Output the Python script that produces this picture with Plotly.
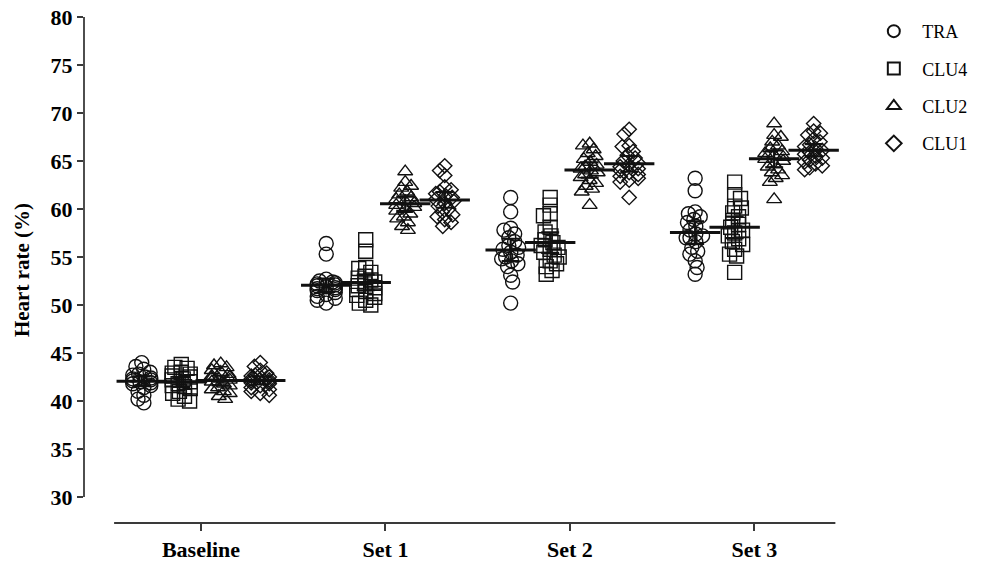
import math
import numpy as np
import plotly.graph_objects as go

# ---------------- data ----------------
categories = ["Baseline", "Set 1", "Set 2", "Set 3"]
series_names = ["TRA", "CLU4", "CLU2", "CLU1"]

TRA_baseline = [44.0, 43.6, 43.3, 43.0, 42.8, 42.7, 42.5, 42.4, 42.3, 42.2,
                42.1, 42.0, 41.9, 41.8, 41.6, 41.4, 41.0, 40.6, 40.2, 39.8]
TRA_set1 = [56.4, 55.3, 52.7, 52.5, 52.4, 52.3, 52.2, 52.1, 52.0, 51.9,
            51.8, 51.7, 51.6, 51.5, 51.3, 51.1, 50.9, 50.7, 50.5, 50.2]
TRA_set2 = [61.2, 59.7, 58.0, 57.8, 57.4, 57.0, 56.6, 56.2, 56.0, 55.8,
            55.5, 55.2, 55.0, 54.8, 54.6, 54.3, 54.0, 53.1, 52.4, 50.2]
TRA_set3 = [63.2, 61.9, 59.7, 59.5, 59.2, 58.9, 58.6, 58.2, 57.8, 57.4,
            57.0, 57.2, 57.0, 56.6, 56.0, 55.6, 55.3, 54.6, 53.9, 53.2]

CLU4_baseline = [43.8, 43.5, 43.4, 43.0, 42.9, 42.8, 42.6, 42.5, 42.3, 42.2,
                 42.0, 41.8, 41.6, 41.5, 41.3, 41.0, 40.8, 40.5, 40.2, 40.0]
CLU4_set1 = [56.8, 55.6, 53.9, 53.8, 53.4, 53.0, 52.8, 52.6, 52.4, 52.2,
             52.0, 51.8, 51.6, 51.4, 51.2, 51.0, 50.8, 50.5, 50.2, 50.0]
CLU4_set2 = [61.2, 60.4, 59.5, 59.3, 58.1, 57.6, 57.2, 56.8, 56.5, 56.2,
             56.0, 55.8, 55.5, 55.2, 55.0, 54.6, 54.3, 54.0, 53.6, 53.2]
CLU4_set3 = [62.8, 61.5, 61.1, 60.3, 60.1, 59.6, 59.2, 58.8, 58.4, 58.1,
             57.8, 57.5, 57.2, 56.9, 56.6, 56.3, 55.8, 55.3, 55.1, 53.4]

CLU2_baseline = [43.9, 43.7, 43.5, 43.2, 43.0, 42.8, 42.6, 42.5, 42.4, 42.3,
                 42.2, 42.0, 41.8, 41.6, 41.4, 41.2, 41.0, 40.8, 40.5, 40.2]
CLU2_set1 = [63.9, 62.8, 62.4, 62.2, 61.8, 61.5, 61.2, 61.0, 60.8, 60.6,
             60.4, 60.2, 60.0, 59.8, 59.5, 59.2, 59.0, 58.6, 58.2, 57.8]
CLU2_set2 = [66.8, 66.6, 66.2, 65.8, 65.5, 65.2, 64.9, 64.6, 64.4, 64.2,
             64.0, 63.8, 63.6, 63.3, 63.0, 62.7, 62.4, 62.1, 61.8, 60.4]
CLU2_set3 = [68.9, 67.7, 67.5, 67.0, 66.6, 66.3, 66.0, 65.8, 65.6, 65.4,
             65.2, 65.0, 64.7, 64.4, 64.1, 63.8, 63.5, 63.2, 62.8, 61.0]

CLU1_baseline = [44.0, 43.6, 43.2, 42.9, 42.7, 42.6, 42.5, 42.4, 42.3, 42.2,
                 42.1, 42.0, 41.9, 41.8, 41.6, 41.4, 41.2, 41.0, 40.8, 40.6]
CLU1_set1 = [64.5, 64.0, 63.5, 62.3, 62.0, 61.8, 61.6, 61.4, 61.2, 61.0,
             60.8, 60.6, 60.3, 60.0, 59.7, 59.4, 59.2, 58.9, 58.6, 58.2]
CLU1_set2 = [68.3, 67.8, 66.6, 66.5, 66.0, 65.6, 65.3, 65.0, 64.8, 64.6,
             64.4, 64.2, 64.0, 63.8, 63.6, 63.4, 63.2, 63.0, 62.8, 61.2]
CLU1_set3 = [68.9, 68.1, 67.9, 67.7, 67.3, 67.0, 66.7, 66.5, 66.3, 66.1,
             65.9, 65.7, 65.5, 65.3, 65.1, 64.9, 64.7, 64.5, 64.3, 64.1]

y_tick_values = [30, 35, 40, 45, 50, 55, 60, 65, 70, 75, 80]
y_title = "Heart rate (%)"

series_data = {
    "TRA": [TRA_baseline, TRA_set1, TRA_set2, TRA_set3],
    "CLU4": [CLU4_baseline, CLU4_set1, CLU4_set2, CLU4_set3],
    "CLU2": [CLU2_baseline, CLU2_set1, CLU2_set2, CLU2_set3],
    "CLU1": [CLU1_baseline, CLU1_set1, CLU1_set2, CLU1_set3],
}

# ---------------- styling / layout ----------------
symbols = {"TRA": "circle-open", "CLU4": "square-open",
           "CLU2": "triangle-up-open", "CLU1": "diamond-open"}
msizes = {"TRA": 14, "CLU4": 14, "CLU2": 13, "CLU1": 11}
INK = "#111111"
AXIS = "#3a3a3a"
FONT = "Liberation Serif, Times New Roman, serif"

GROUP_STEP = 4.67
PX_PER_X = 39.5
PX_PER_Y = 9.6
T_975_19 = 2.093  # t quantile for 95% CI, n = 20


def swarm_offsets(vals, d_px=7.0, max_px=9.0):
    vals = np.asarray(vals, float)
    order = np.argsort(-vals)
    placed = []
    off = np.zeros(len(vals))
    for k, i in enumerate(order):
        y = vals[i] * PX_PER_Y
        cands = [0.0]
        forb = []
        for xj, yj in placed:
            dy = y - yj
            if abs(dy) < d_px:
                w = math.sqrt(d_px ** 2 - dy ** 2)
                forb.append((xj - w, xj + w))
                cands += [xj - w, xj + w]
        sgn = 1 if k % 2 else -1
        cands.sort(key=lambda c: (round(abs(c), 4), sgn * c))
        chosen = cands[0]
        for c in cands:
            if all(not (a + 1e-6 < c < b - 1e-6) for a, b in forb):
                chosen = c
                break
        chosen = max(-max_px, min(max_px, chosen))
        placed.append((chosen, y))
        off[i] = chosen / PX_PER_X
    return off


fig = go.Figure()

for s_idx, name in enumerate(series_names):
    xs, ys = [], []
    mx, my, ci = [], [], []
    for g_idx, cat in enumerate(categories):
        vals = series_data[name][g_idx]
        base = g_idx * GROUP_STEP + (s_idx - 1.5)
        offs = swarm_offsets(vals)
        xs += list(base + offs)
        ys += list(vals)
        arr = np.asarray(vals, float)
        m = arr.mean()
        sem = arr.std(ddof=1) / math.sqrt(len(arr))
        mx.append(base)
        my.append(m)
        ci.append(T_975_19 * sem)
    fig.add_trace(go.Scatter(
        x=xs, y=ys, mode="markers", name=name,
        marker=dict(symbol=symbols[name], size=msizes[name], color=INK,
                    line=dict(width=1.4, color=INK)),
        legendgroup=name,
    ))
    fig.add_trace(go.Scatter(
        x=mx, y=my, mode="markers", showlegend=False, hoverinfo="skip",
        marker=dict(symbol="line-ew-open", size=36, color=INK,
                    line=dict(width=3, color=INK)),
        error_y=dict(type="data", array=ci, visible=True, thickness=2.2,
                     width=9, color=INK),
        legendgroup=name,
    ))

group_centers = [g * GROUP_STEP for g in range(len(categories))]

plot_left, plot_right, plot_top, plot_bottom = 84, 850, 17, 523
x0 = -(201 - plot_left) / PX_PER_X
x1 = x0 + (plot_right - plot_left) / PX_PER_X
y1 = 80
y0 = 80 - (plot_bottom - plot_top) / PX_PER_Y

fig.update_layout(
    width=986, height=561,
    margin=dict(l=plot_left, r=986 - plot_right, t=plot_top, b=561 - plot_bottom,
                autoexpand=False),
    paper_bgcolor="white", plot_bgcolor="white",
    font=dict(family=FONT, color="black"),
    showlegend=True,
    legend=dict(x=1.02, y=1.008, xanchor="left", yanchor="top",
                font=dict(family=FONT, size=18, color="black"),
                itemsizing="constant", itemwidth=47,
                tracegroupgap=11, bgcolor="rgba(0,0,0,0)"),
    xaxis=dict(range=[x0, x1], showgrid=False, zeroline=False, showline=False,
               automargin=False,
               tickmode="array", tickvals=group_centers, ticktext=categories,
               ticks="outside", ticklen=7, tickwidth=1.6, tickcolor=AXIS,
               tickfont=dict(family=FONT, size=22, color="black", weight="bold")),
    yaxis=dict(range=[y0, y1], showgrid=False, zeroline=False, showline=False,
               automargin=False,
               tickmode="array", tickvals=y_tick_values,
               ticks="outside", ticklen=6, tickwidth=1.6, tickcolor=AXIS,
               tickfont=dict(family=FONT, size=22, color="black", weight="bold"),
               title=dict(text=y_title, standoff=15,
                          font=dict(family=FONT, size=21, color="black", weight="bold"))),
    shapes=[
        dict(type="line", xref="paper", yref="y", x0=0, x1=0,
             y0=min(y_tick_values), y1=max(y_tick_values),
             line=dict(color=AXIS, width=1.8)),
        dict(type="line", xref="x", yref="paper",
             x0=-2.2, x1=group_centers[-1] + 2.05, y0=0, y1=0,
             line=dict(color=AXIS, width=1.8)),
    ],
)

fig.write_html("out.html")
